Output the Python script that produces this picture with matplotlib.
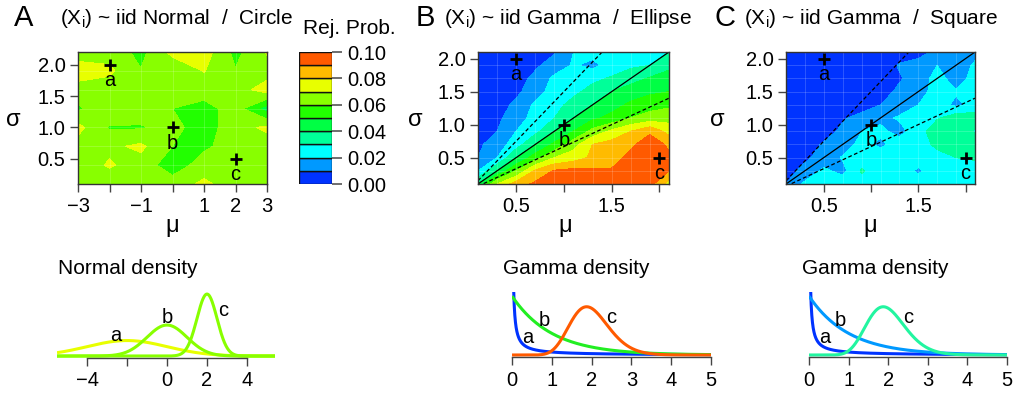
import numpy as np
import matplotlib
matplotlib.use("Agg")
import matplotlib.pyplot as plt
from math import lgamma

W, H = 1018, 394
plt.rcParams['font.family'] = ['Liberation Sans', 'DejaVu Sans']
plt.rcParams['mathtext.fontset'] = 'custom'
plt.rcParams['mathtext.rm'] = 'Liberation Sans'
plt.rcParams['mathtext.it'] = 'Liberation Sans:italic'
plt.rcParams['axes.unicode_minus'] = True

# ---------------- data ----------------
levels = [0.00, 0.01, 0.02, 0.03, 0.04, 0.05, 0.06, 0.07, 0.08, 0.09, 0.10]
level_colors = ['#0033FF', '#0099FF', '#00FFFF', '#00FF99', '#00FF44',
                '#22FF00', '#88FF00', '#E8FF00', '#FFBB00', '#FF5A00']
cbar_ticks = [0.00, 0.02, 0.04, 0.06, 0.08, 0.10]

# Panel A grid (Normal / Circle)
mu_A = [-3, -2, -1, 0, 1, 2, 3]
sigma_A = [0.1, 0.4, 0.7, 1.0, 1.3, 1.6, 1.9, 2.2]
rej_A = [  # rows: sigma ascending
    [.065, .065, .065, .065, .072, .065, .065],
    [.065, .071, .066, .054, .065, .065, .065],
    [.066, .068, .072, .060, .058, .065, .065],
    [.073, .059, .059, .063, .055, .066, .072],
    [.058, .069, .066, .060, .056, .065, .045],
    [.066, .065, .065, .065, .065, .065, .075],
    [.075, .072, .0605, .062, .0705, .0605, .065],
    [.065, .066, .057, .073, .075, .057, .071],
]

# Panels B, C grid (Gamma)
mu_G = [0.1, 0.3, 0.5, 0.7, 0.9, 1.1, 1.3, 1.5, 1.7, 1.9, 2.1]
sigma_G = [0.1, 0.3, 0.5, 0.7, 0.9, 1.1, 1.3, 1.5, 1.7, 1.9, 2.1]
rej_B = [  # rows: sigma ascending
    [.040, .070, .085, .092, .094, .095, .095, .094, .096, .094, .075],
    [.020, .040, .060, .082, .091, .093, .092, .091, .095, .096, .090],
    [.010, .020, .040, .055, .070, .075, .082, .086, .093, .095, .092],
    [.008, .015, .025, .040, .052, .066, .080, .084, .088, .096, .088],
    [.005, .010, .020, .027, .040, .050, .063, .072, .080, .088, .076],
    [.004, .008, .015, .024, .030, .040, .048, .053, .060, .064, .066],
    [.003, .006, .012, .022, .027, .033, .040, .046, .052, .056, .058],
    [.002, .004, .008, .015, .025, .028, .033, .040, .045, .048, .050],
    [.002, .003, .005, .013, .022, .026, .028, .031, .036, .041, .045],
    [.003, .003, .004, .008, .015, .021, .017, .025, .028, .030, .037],
    [.003, .003, .003, .004, .009, .020, .024, .025, .026, .027, .030],
]
rej_C = [  # rows: sigma ascending
    [.010, .022, .025, .026, .026, .026, .025, .026, .026, .026, .026],
    [.006, .013, .022, .017, .031, .025, .026, .018, .026, .027, .019],
    [.004, .008, .014, .021, .025, .025, .026, .026, .027, .030, .033],
    [.003, .006, .011, .015, .023, .018, .024, .026, .032, .039, .037],
    [.003, .004, .006, .012, .020, .022, .017, .025, .037, .036, .029],
    [.003, .003, .004, .009, .013, .018, .021, .024, .029, .036, .035],
    [.003, .003, .003, .004, .006, .010, .016, .020, .024, .018, .023],
    [.003, .003, .003, .003, .004, .006, .012, .015, .025, .021, .025],
    [.003, .003, .003, .003, .003, .004, .009, .014, .024, .015, .024],
    [.003, .003, .003, .003, .003, .004, .011, .013, .020, .016, .021],
    [.003, .003, .003, .003, .003, .003, .004, .007, .012, .015, .018],
]

point_names = ['a', 'b', 'c']
points_A_mu = [-2, 0, 2]
points_A_sigma = [2.0, 1.0, 0.5]
points_G_mu = [0.5, 1.0, 2.0]
points_G_sigma = [2.0, 1.0, 0.5]

ratio_lines = [1.0, 1.5, 1 / 1.5]

titles = [r"(X$_{\mathrm{i}}$) ~ iid Normal  /  Circle",
          r"(X$_{\mathrm{i}}$) ~ iid Gamma  /  Ellipse",
          r"(X$_{\mathrm{i}}$) ~ iid Gamma  /  Square"]
panel_letters = ['A', 'B', 'C']

dens_colors_A = ['#E8FF00', '#88FF00', '#88FF00']
dens_colors_B = ['#0033FF', '#22EE22', '#FF5A00']
dens_colors_C = ['#0033FF', '#0099FF', '#22F5A0']

FS = 14.5

# ---------------- helpers ----------------
fig = plt.figure(figsize=(W / 100, H / 100), dpi=100)


def px_axes(x0, y0, x1, y1):
    return fig.add_axes([x0 / W, 1 - y1 / H, (x1 - x0) / W, (y1 - y0) / H])


def ftext(x, y, s, **kw):
    fig.text(x / W, 1 - y / H, s, **kw)


def norm_pdf(x, m, s):
    return np.exp(-0.5 * ((x - m) / s) ** 2) / (s * np.sqrt(2 * np.pi))


def gamma_pdf(x, m, s):
    k = (m / s) ** 2
    th = s ** 2 / m
    return np.exp((k - 1) * np.log(x) - x / th - lgamma(k) - k * np.log(th))


def contour_panel(box, mu, sig, Z, xlim, ylim, xticks, xticklabels,
                  pmu, psig, lines):
    ax = px_axes(*box)
    ax.contourf(mu, sig, np.array(Z), levels=levels, colors=level_colors)
    for m in mu:
        ax.axvline(m, color='white', lw=0.6, alpha=0.2)
    for s in sig:
        ax.axhline(s, color='white', lw=0.6, alpha=0.2)
    if lines:
        xx = np.array(xlim)
        for r, ls in zip(ratio_lines, ['-', '--', '--']):
            ax.plot(xx, r * xx, color='black', lw=0.9, ls=ls,
                    dashes=(3, 2) if ls == '--' else (None, None))
    for n, m, s in zip(point_names, pmu, psig):
        ax.plot(m, s, marker='+', color='black', ms=9, mew=2)
        ax.annotate(n, (m, s), xytext=(0, -11.5), textcoords='offset points',
                    ha='center', va='center', fontsize=FS)
    ax.set_xlim(*xlim)
    ax.set_ylim(*ylim)
    ax.set_xticks(xticks)
    ax.set_xticklabels(xticklabels)
    ax.set_yticks([0.5, 1.0, 1.5, 2.0])
    ax.set_yticklabels(['0.5', '1.0', '1.5', '2.0'])
    ax.tick_params(direction='out', length=6, width=1, labelsize=FS,
                   color='#444444', pad=3)
    ax.tick_params(axis='x', pad=3)
    for sp in ax.spines.values():
        sp.set_color('#333333')
        sp.set_linewidth(1)
    return ax


# ---------------- contour panels ----------------
contour_panel((78, 52, 267, 184), mu_A, sigma_A, rej_A, (-3, 3), (0.1, 2.2),
              [-3, -2, -1, 0, 1, 2, 3], ['\u22123', '', '\u22121', '', '1', '2', '3'],
              points_A_mu, points_A_sigma, False)
contour_panel((478, 52, 669, 184), mu_G, sigma_G, rej_B, (0.1, 2.1), (0.1, 2.1),
              [0.5, 1.0, 1.5, 2.0], ['0.5', '', '1.5', ''],
              points_G_mu, points_G_sigma, True)
contour_panel((786, 52, 975, 184), mu_G, sigma_G, rej_C, (0.1, 2.1), (0.1, 2.1),
              [0.5, 1.0, 1.5, 2.0], ['0.5', '', '1.5', ''],
              points_G_mu, points_G_sigma, True)

# axis labels
for xs, xm in [(13, 172), (415, 565), (717, 870)]:
    ftext(xs, 120, '\u03c3', fontsize=17, ha='center', va='center')
    ftext(xm, 226, '\u03bc', fontsize=17, ha='center', va='center')

# titles
for (xl, xt), letter, t in zip([(24, 60), (425, 444), (725, 744)], panel_letters, titles):
    ftext(xl, 18, letter, fontsize=21, ha='center', va='center')
    ftext(xt, 19, t, fontsize=15, ha='left', va='center')

# ---------------- colour bar ----------------
cax = px_axes(299, 52, 332, 184)
for i in range(len(level_colors)):
    cax.bar(0.5, levels[i + 1] - levels[i], bottom=levels[i], width=1,
            color=level_colors[i], edgecolor='#111111', lw=1)
cax.set_xlim(0, 1)
cax.set_ylim(0, 0.10)
cax.set_xticks([])
cax.yaxis.tick_right()
cax.set_yticks(cbar_ticks)
cax.set_yticklabels(['%.2f' % v for v in cbar_ticks])
cax.tick_params(axis='y', direction='out', length=7, width=1.2, color='#555555',
                labelsize=FS, pad=4)
for sp in cax.spines.values():
    sp.set_visible(False)
ftext(303, 28, 'Rej. Prob.', fontsize=15, ha='left', va='center')

# ---------------- density panels ----------------
# Normal
axn = px_axes(57, 290, 275, 357.6)
xn = np.linspace(-5.5, 5.4, 600)
for m, s, c in zip(points_A_mu, points_A_sigma, dens_colors_A):
    axn.plot(xn, norm_pdf(xn, m, s), color=c, lw=2.2, solid_capstyle='butt')
axn.set_xlim(-5.5, 5.4)
axn.set_ylim(-0.02, 0.85)
norm_label_pos = [(-2.55, 0.27), (0.0, 0.49), (2.8, 0.59)]
for n, (x, y) in zip(point_names, norm_label_pos):
    axn.text(x, y, n, fontsize=FS, ha='center', va='center')
axn.set_xticks([-4, -2, 0, 2, 4])
axn.set_xticklabels(['\u22124', '', '0', '2', '4'])
ftext(58, 268, 'Normal density', fontsize=15, ha='left', va='center')

gamma_label_pos = [(0.39, 0.30), (0.8, 0.58), (2.5, 0.63)]
xg = np.linspace(0.0005, 5, 3000)
dens_axes = [axn]
for (x0, x1), cols, xt in [((512, 711), dens_colors_B, 503), ((809, 1007), dens_colors_C, 802)]:
    ag = px_axes(x0, 292, x1, 357)
    for m, s, c in zip(points_G_mu, points_G_sigma, cols):
        ag.plot(xg, gamma_pdf(xg, m, s), color=c, lw=2.2, solid_capstyle='butt')
    ag.set_xlim(0, 5)
    ag.set_ylim(-0.034, 1.07)
    for n, (x, y) in zip(point_names, gamma_label_pos):
        ag.text(x, y, n, fontsize=FS, ha='center', va='center')
    ag.set_xticks([0, 1, 2, 3, 4, 5])
    ftext(xt, 268, 'Gamma density', fontsize=15, ha='left', va='center')
    dens_axes.append(ag)

for ax in dens_axes:
    for k in ['top', 'left', 'right']:
        ax.spines[k].set_visible(False)
    ax.spines['bottom'].set_color('#444444')
    ax.spines['bottom'].set_linewidth(1)
    ax.set_yticks([])
    ax.patch.set_visible(False)
    ax.tick_params(axis='x', direction='out', length=6, width=1, color='#444444',
                   labelsize=FS, pad=4)
dens_axes[0].spines['bottom'].set_bounds(-4, 4)

fig.savefig('out.png', dpi=100)
